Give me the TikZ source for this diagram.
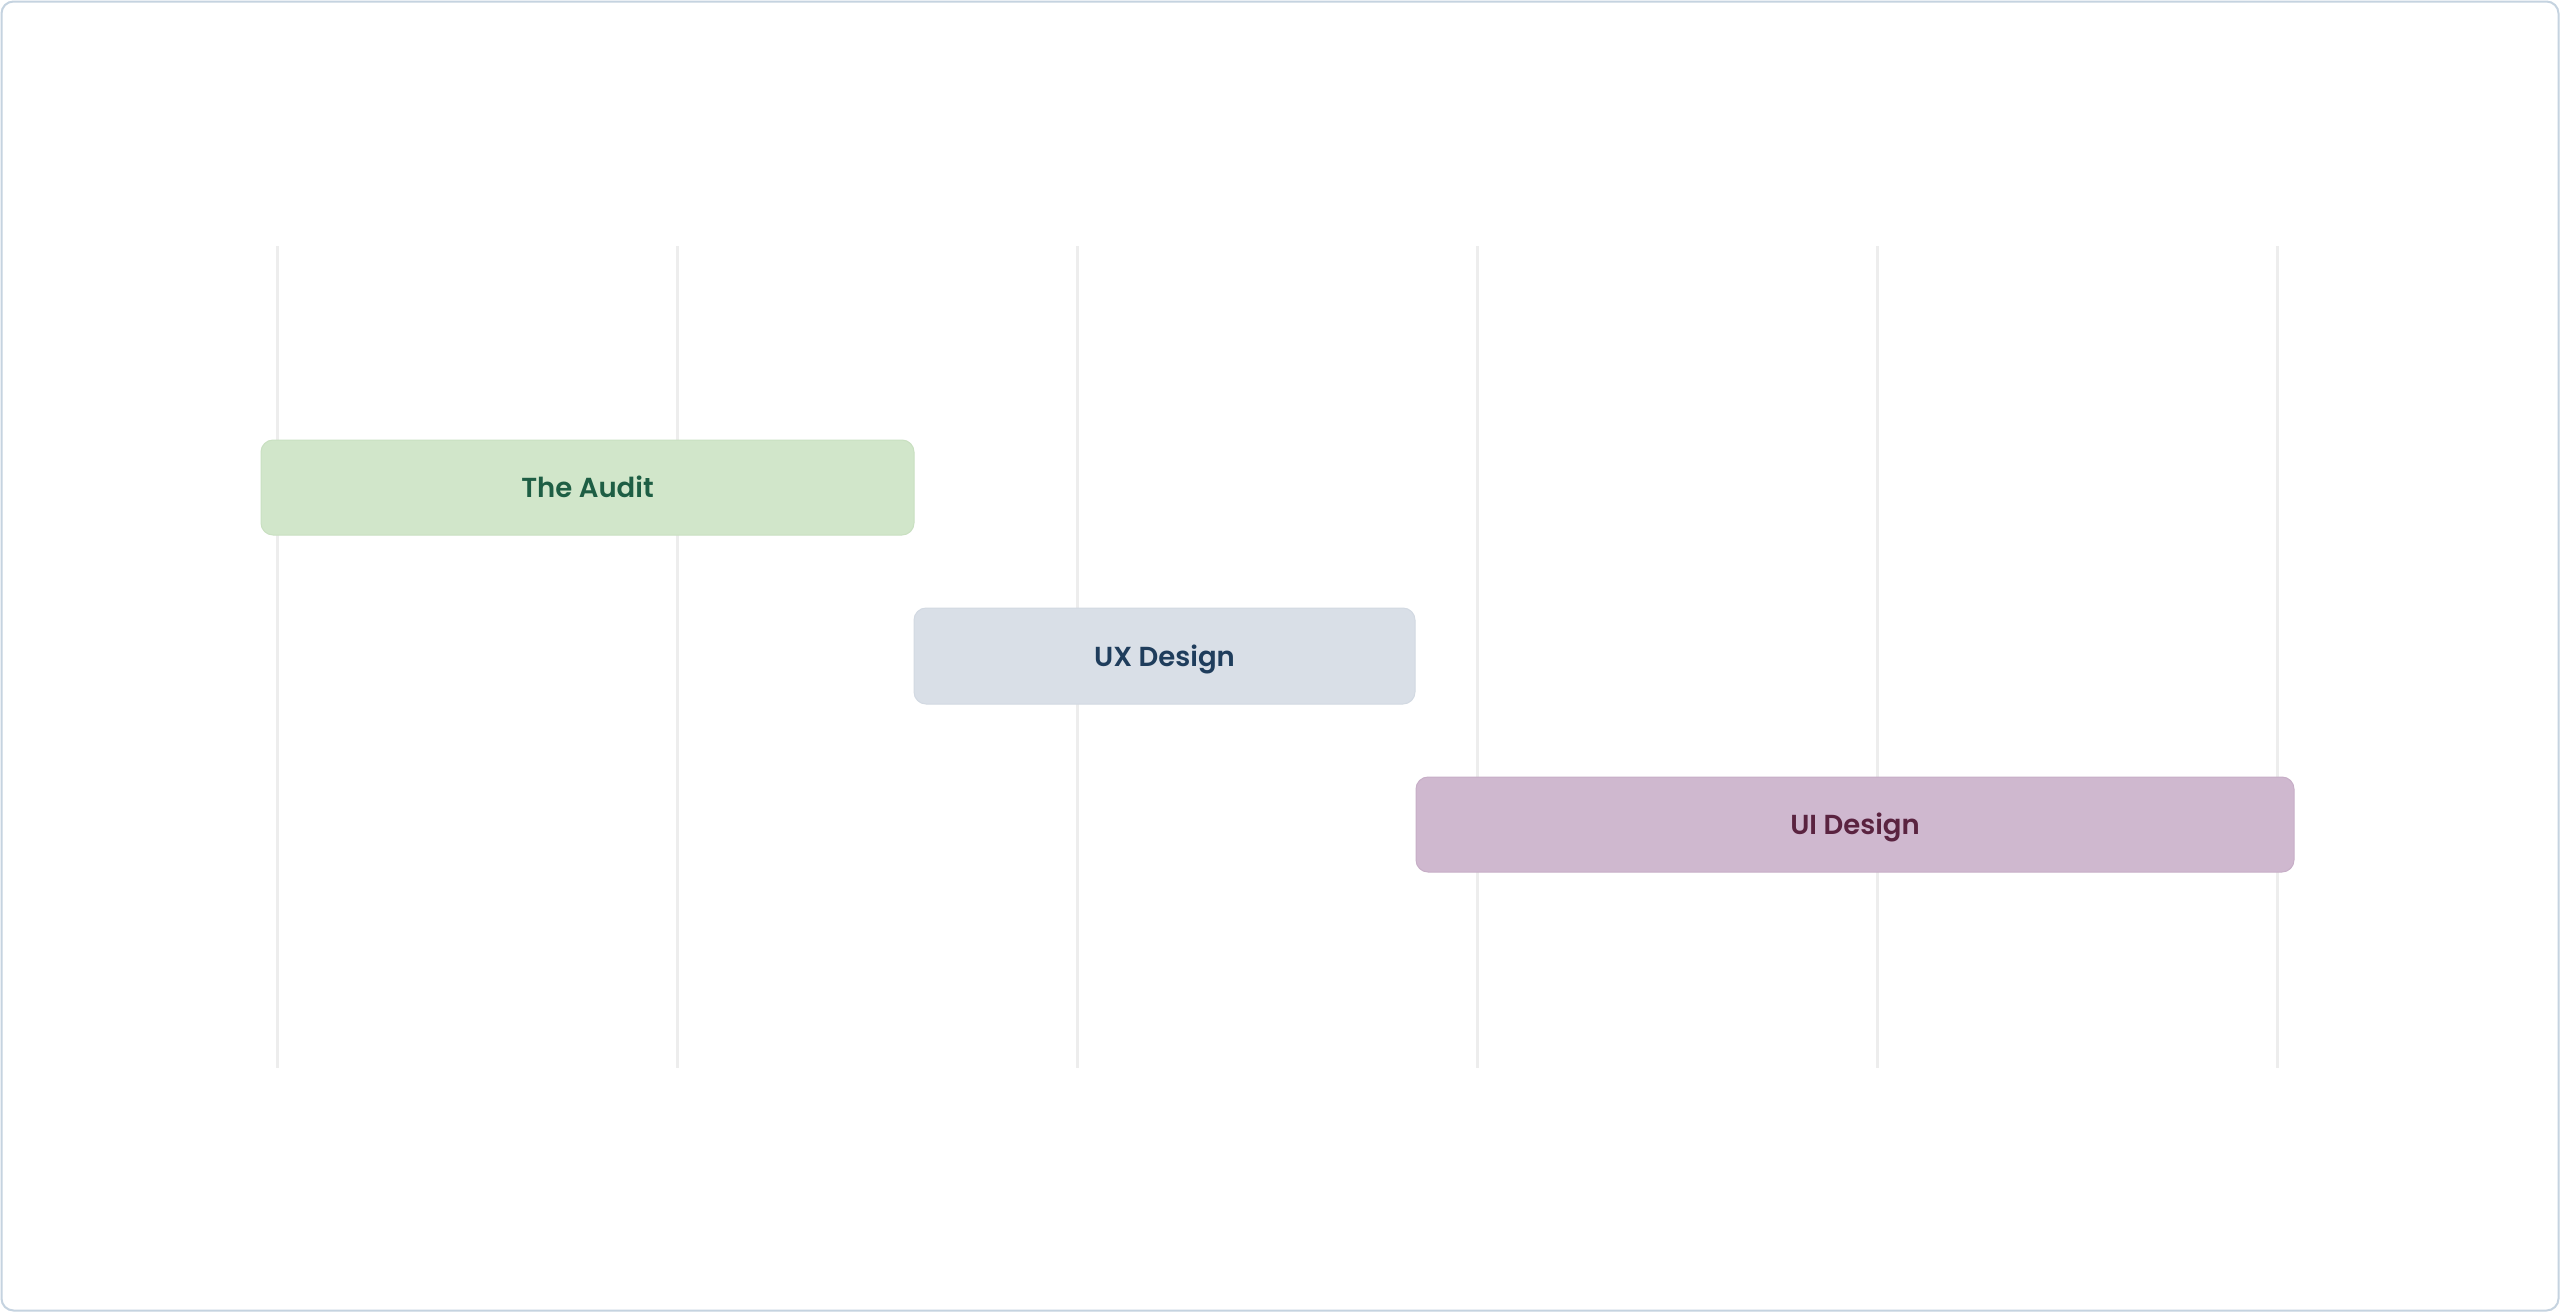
\documentclass[tikz,border=0pt]{standalone}
\usepackage{fontspec}
\newfontfamily\popsb{Poppins}[UprightFont=* SemiBold]
\definecolor{gridc}{HTML}{EDEDED}
\definecolor{framec}{HTML}{C5D3E0}
\definecolor{auditfill}{HTML}{D1E6CA}
\definecolor{auditdraw}{HTML}{C9E0C1}
\definecolor{audittext}{HTML}{1E5E44}
\definecolor{uxfill}{HTML}{D9DFE7}
\definecolor{uxdraw}{HTML}{D2D9E2}
\definecolor{uxtext}{HTML}{1F3D5C}
\definecolor{uifill}{HTML}{CFB8CF}
\definecolor{uidraw}{HTML}{C7AEC7}
\definecolor{uitext}{HTML}{5A2340}
\tikzset{
  gridline/.style={draw=gridc, line width=3.5pt},
  barbox/.style={rounded corners=12pt, line width=1pt},
  barlabel/.style={font=\popsb\fontsize{27.5}{32}\selectfont, inner sep=0pt, anchor=base}
}
\begin{document}
\begin{tikzpicture}[x=1pt,y=-1pt]
\useasboundingbox (0,0) rectangle (2560,1312);
\fill[white] (0,0) rectangle (2560,1312);
\draw[framec, line width=2pt, rounded corners=12pt] (1.5,1.5) rectangle (2558.5,1310.5);
% grid lines
\foreach \i/\x in {1/277.6,2/677.6,3/1077.6,4/1477.6,5/1877.6,6/2277.6}{
  \coordinate (gt\i) at (\x,246);
  \coordinate (gb\i) at (\x,1068);
  \draw[gridline] (gt\i) -- (gb\i);
}
% bars
\draw[barbox, fill=auditfill, draw=auditdraw] (261,440) rectangle (914,535);
\node[barlabel, text=audittext] (audit) at (587.5,497) {The Audit};
\draw[barbox, fill=uxfill, draw=uxdraw] (914,608) rectangle (1415,704);
\node[barlabel, text=uxtext] (ux) at (1164.5,666) {UX Design};
\draw[barbox, fill=uifill, draw=uidraw] (1416,777) rectangle (2294,872);
\node[barlabel, text=uitext] (ui) at (1855,834) {UI Design};
\end{tikzpicture}
\end{document}
